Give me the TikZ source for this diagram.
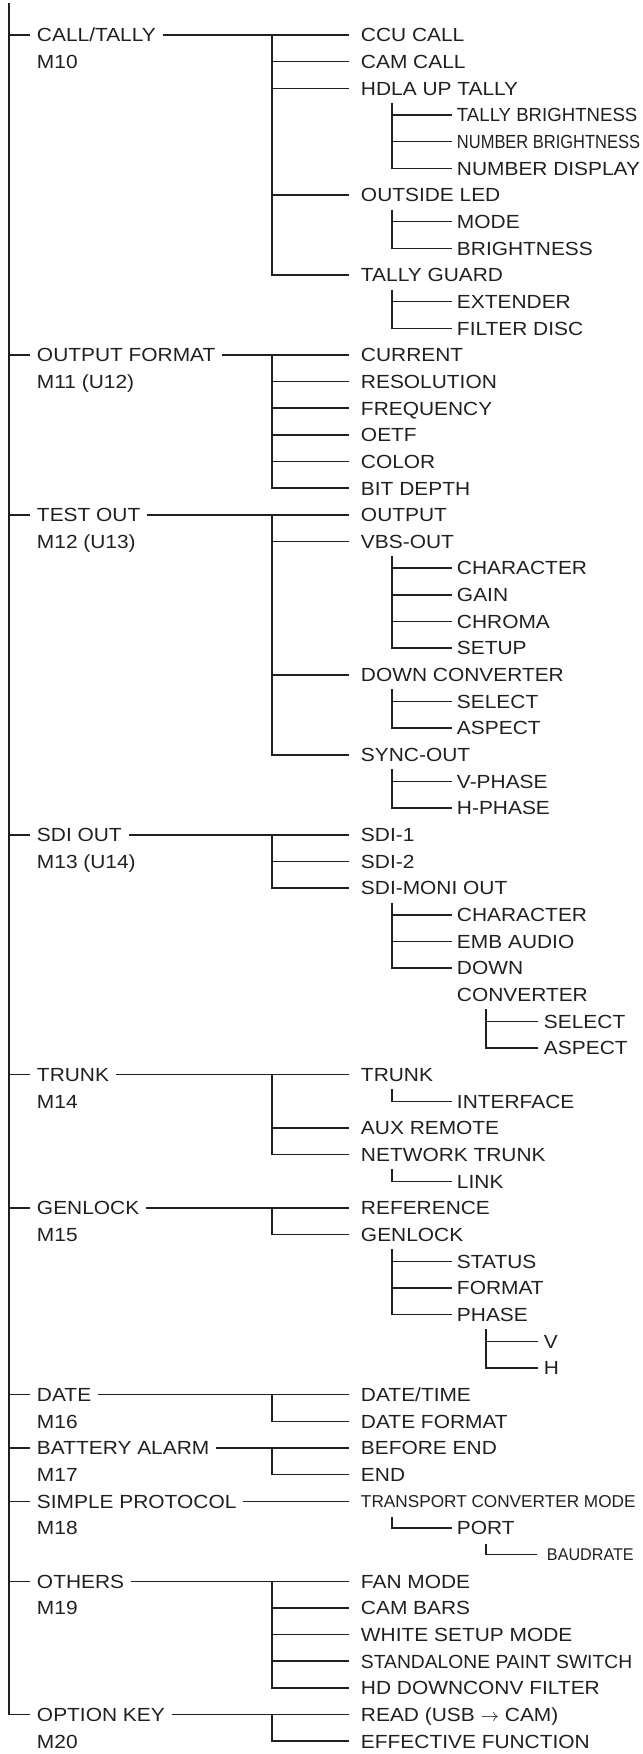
\documentclass[tikz,border=0pt]{standalone}
\usepackage{fontspec}
\setmainfont{Liberation Sans}[FakeStretch=1.1]
\newfontfamily\tallyfont[FakeStretch=0.98]{Liberation Sans}
\newfontfamily\narrowfont[FakeStretch=0.867]{Liberation Sans}
\newfontfamily\switchfont[FakeStretch=1.014]{Liberation Sans}
\newfontfamily\plainfont{Liberation Sans}
\newfontfamily\baudfont[FakeStretch=0.95]{Liberation Sans}
\usetikzlibrary{calc}
\definecolor{ink}{HTML}{231F20}

\begin{document}
\begin{tikzpicture}[
        x=0.5pt, y=-13.33pt,
        font=\fontsize{9.5}{11}\selectfont,
        every node/.style={inner sep=0pt, anchor=west, text height=6.8pt, text depth=0pt, text=ink},
        line/.style={draw=ink, line width=0.75pt},
        menu/.style={outer xsep=3.5pt},
        item/.style={outer xsep=6pt},
        subitem/.style={outer xsep=2.5pt},
        subsubitem/.style={outer xsep=3pt}
    ]
        \useasboundingbox (0,-1.3128) rectangle (643,64.48);

        % Top level menus
        \node[menu] (calltally) at (30,0) {CALL/TALLY};
        \node[menu] (m10) at (30,1) {M10};
        \node[menu] (outfmt) at (30,12) {OUTPUT FORMAT};
        \node[menu] (m11) at (30,13) {M11 (U12)};
        \node[menu] (testout) at (30,18) {TEST OUT};
        \node[menu] (m12) at (30,19) {M12 (U13)};
        \node[menu] (sdiout) at (30,30) {SDI OUT};
        \node[menu] (m13) at (30,31) {M13 (U14)};
        \node[menu] (trunk) at (30,39) {TRUNK};
        \node[menu] (m14) at (30,40) {M14};
        \node[menu] (genlock) at (30,44) {GENLOCK};
        \node[menu] (m15) at (30,45) {M15};
        \node[menu] (date) at (30,51) {DATE};
        \node[menu] (m16) at (30,52) {M16};
        \node[menu] (battery) at (30,53) {BATTERY ALARM};
        \node[menu] (m17) at (30,54) {M17};
        \node[menu] (simple) at (30,55) {SIMPLE PROTOCOL};
        \node[menu] (m18) at (30,56) {M18};
        \node[menu] (others) at (30,58) {OTHERS};
        \node[menu] (m19) at (30,59) {M19};
        \node[menu] (optkey) at (30,63) {OPTION KEY};
        \node[menu] (m20) at (30,64) {M20};

        % Second level items
        \node[item] (ccu) at (349,0) {CCU CALL};
        \node[item] (camcall) at (349,1) {CAM CALL};
        \node[item] (hdla) at (349,2) {HDLA UP TALLY};
        \node[item] (outled) at (349,6) {OUTSIDE LED};
        \node[item] (tguard) at (349,9) {TALLY GUARD};
        \node[item] (current) at (349,12) {CURRENT};
        \node[item] (resol) at (349,13) {RESOLUTION};
        \node[item] (freq) at (349,14) {FREQUENCY};
        \node[item] (oetf) at (349,15) {OETF};
        \node[item] (color) at (349,16) {COLOR};
        \node[item] (bitdepth) at (349,17) {BIT DEPTH};
        \node[item] (output) at (349,18) {OUTPUT};
        \node[item] (vbs) at (349,19) {VBS-OUT};
        \node[item] (downconv) at (349,24) {DOWN CONVERTER};
        \node[item] (syncout) at (349,27) {SYNC-OUT};
        \node[item] (sdione) at (349,30) {SDI-1};
        \node[item] (sditwo) at (349,31) {SDI-2};
        \node[item] (sdimoni) at (349,32) {SDI-MONI OUT};
        \node[item] (trunkit) at (349,39) {TRUNK};
        \node[item] (auxrem) at (349,41) {AUX REMOTE};
        \node[item] (nettrunk) at (349,42) {NETWORK TRUNK};
        \node[item] (reference) at (349,44) {REFERENCE};
        \node[item] (genlockit) at (349,45) {GENLOCK};
        \node[item] (datetime) at (349,51) {DATE/TIME};
        \node[item] (datefmt) at (349,52) {DATE FORMAT};
        \node[item] (beforeend) at (349,53) {BEFORE END};
        \node[item] (endit) at (349,54) {END};
        \node[item, font=\plainfont\fontsize{8.6}{10}\selectfont, text height=6.2pt] (transport) at (349,55) {TRANSPORT CONVERTER MODE};
        \node[item] (fanmode) at (349,58) {FAN MODE};
        \node[item] (cambars) at (349,59) {CAM BARS};
        \node[item] (whitesetup) at (349,60) {WHITE SETUP MODE};
        \node[item, font=\switchfont\fontsize{9.5}{11}\selectfont] (standalone) at (349,61) {STANDALONE PAINT SWITCH};
        \node[item] (dcfilter) at (349,62) {HD DOWNCONV FILTER};
        \node[item] (read) at (349,63) {READ (USB $\rightarrow$ CAM)};
        \node[item] (effective) at (349,64) {EFFECTIVE FUNCTION};

        % Third level items
        \node[subitem, font=\tallyfont\fontsize{9.5}{11}\selectfont] (tbright) at (452,3) {TALLY BRIGHTNESS};
        \node[subitem, font=\narrowfont\fontsize{9.5}{11}\selectfont] (nbright) at (452,4) {NUMBER BRIGHTNESS};
        \node[subitem] (ndisp) at (452,5) {NUMBER DISPLAY};
        \node[subitem] (mode) at (452,7) {MODE};
        \node[subitem] (bright) at (452,8) {BRIGHTNESS};
        \node[subitem] (extender) at (452,10) {EXTENDER};
        \node[subitem] (filterdisc) at (452,11) {FILTER DISC};
        \node[subitem] (vchar) at (452,20) {CHARACTER};
        \node[subitem] (gain) at (452,21) {GAIN};
        \node[subitem] (chroma) at (452,22) {CHROMA};
        \node[subitem] (setup) at (452,23) {SETUP};
        \node[subitem] (dcselect) at (452,25) {SELECT};
        \node[subitem] (dcaspect) at (452,26) {ASPECT};
        \node[subitem] (vphase) at (452,28) {V-PHASE};
        \node[subitem] (hphase) at (452,29) {H-PHASE};
        \node[subitem] (schar) at (452,33) {CHARACTER};
        \node[subitem] (embaudio) at (452,34) {EMB AUDIO};
        \node[subitem] (sdown) at (452,35) {DOWN};
        \node[subitem] (sconv) at (452,36) {CONVERTER};
        \node[subitem] (interface) at (452,40) {INTERFACE};
        \node[subitem] (link) at (452,43) {LINK};
        \node[subitem] (status) at (452,46) {STATUS};
        \node[subitem] (format) at (452,47) {FORMAT};
        \node[subitem] (phase) at (452,48) {PHASE};
        \node[subitem] (port) at (452,56) {PORT};

        % Fourth level items
        \node[subsubitem] (sselect) at (538,37) {SELECT};
        \node[subsubitem] (saspect) at (538,38) {ASPECT};
        \node[subsubitem] (phv) at (538,49) {V};
        \node[subsubitem] (phh) at (538,50) {H};
        \node[subsubitem, outer xsep=5pt, font=\baudfont\fontsize{8.5}{10}\selectfont, text height=6.1pt] (baud) at (537,57) {BAUDRATE};

        % Main spine
        \coordinate (spine) at (9,-1.2);
        \draw[line] (spine) |- (optkey.west);
        \foreach \n in {calltally,outfmt,testout,sdiout,trunk,genlock,date,battery,simple,others}
            \draw[line] (\n.west -| spine) -- (\n.west);

        % Menu to first item
        \foreach \a/\b in {calltally/ccu, outfmt/current, testout/output, sdiout/sdione, trunk/trunkit,
                genlock/reference, date/datetime, battery/beforeend, simple/transport, others/fanmode, optkey/read}
            \draw[line] (\a.east) -- (\b.west);

        % Second level forks
        \foreach \r/\list in {0/{camcall,hdla,outled,tguard}, 12/{resol,freq,oetf,color,bitdepth},
                18/{vbs,downconv,syncout}, 30/{sditwo,sdimoni}, 39/{auxrem,nettrunk}, 44/{genlockit},
                51/{datefmt}, 53/{endit}, 58/{cambars,whitesetup,standalone,dcfilter}, 63/{effective}}
            \foreach \c in \list
                \draw[line] (272,\r) |- (\c.west);

        % Third level forks
        \foreach \r/\list in {2.55/{tbright,nbright,ndisp}, 6.55/{mode,bright}, 9.55/{extender,filterdisc},
                19.55/{vchar,gain,chroma,setup}, 24.55/{dcselect,dcaspect}, 27.55/{vphase,hphase},
                32.55/{schar,embaudio,sdown}, 39.55/{interface}, 42.55/{link}, 45.55/{status,format,phase},
                55.6/{port}}
            \foreach \c in \list
                \draw[line] (392,\r) |- (\c.west);

        % Fourth level forks
        \foreach \r/\list in {36.55/{sselect,saspect}, 48.55/{phv,phh}, 56.6/{baud}}
            \foreach \c in \list
                \draw[line] (486,\r) |- (\c.west);

    \end{tikzpicture}
\end{document}
